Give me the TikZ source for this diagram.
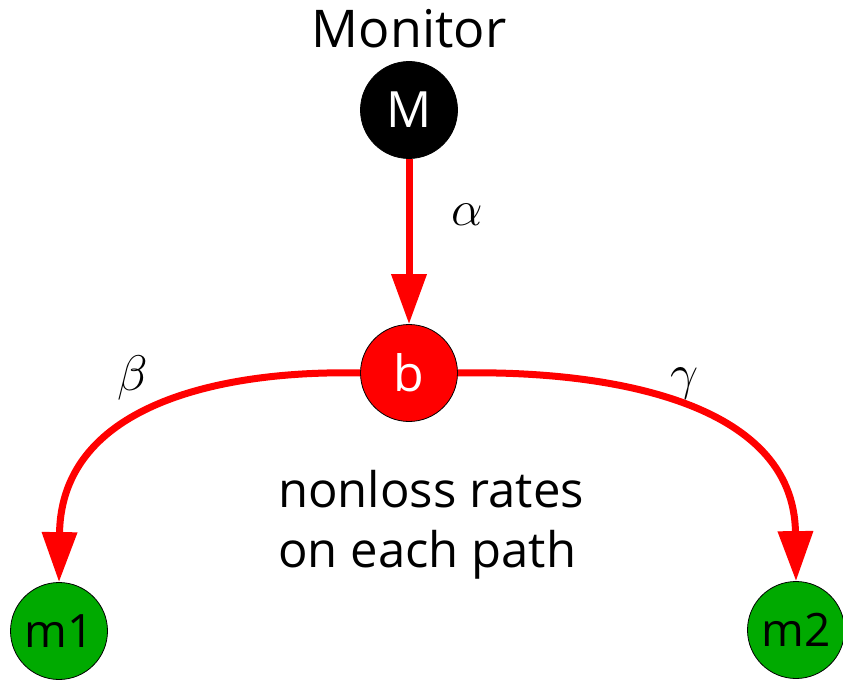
\documentclass[tikz,border=0pt]{standalone}
\usepackage{fix-cm}
\usepackage{fontspec}
\setmainfont{Open Sans}
\usetikzlibrary{arrows.meta}
\definecolor{nodegreen}{RGB}{0,170,0}
\begin{document}
\begin{tikzpicture}[x=1pt,y=-1pt,
  vertex/.style={circle,draw=black,line width=0.8pt,minimum size=97pt,inner sep=0pt},
  link/.style={draw=red,line width=7pt,-{Triangle[length=50pt,width=34pt]}},
  greek/.style={font=\fontsize{50}{50}\selectfont},
  bigtext/.style={font=\fontsize{49}{49}\selectfont,anchor=base west,inner sep=0pt}]
\useasboundingbox (0,0) rectangle (843,682);
\node[vertex,fill=black,text=white,font=\fontsize{50}{50}\selectfont] (M) at (409,110) {M};
\node[anchor=base,inner sep=0pt,font=\fontsize{52}{52}\selectfont] (mon) at (409,48) {Monitor};
\node[vertex,fill=red,text=white,font=\fontsize{50}{50}\selectfont] (b) at (409,373) {b};
\node[vertex,fill=nodegreen,font=\fontsize{46}{46}\selectfont] (m1) at (59,631) {m1};
\node[vertex,fill=nodegreen,font=\fontsize{46}{46}\selectfont] (m2) at (796,630) {m2};
\draw[link] (M) -- (b);
\draw[link] (b.west) .. controls +(-131,-3) and +(2,-181) .. (m1.north);
\draw[link] (b.east) .. controls +(147,-3) and +(-2,-181) .. (m2.north);
\node[greek] (alpha) at (467,215) {$\alpha$};
\node[greek] (beta) at (133,378) {$\beta$};
\node[greek] (gamma) at (685,384) {$\gamma$};
\node[bigtext] (t1) at (278,507) {nonloss rates};
\node[bigtext] (t2) at (278,567) {on each path};
\end{tikzpicture}
\end{document}
